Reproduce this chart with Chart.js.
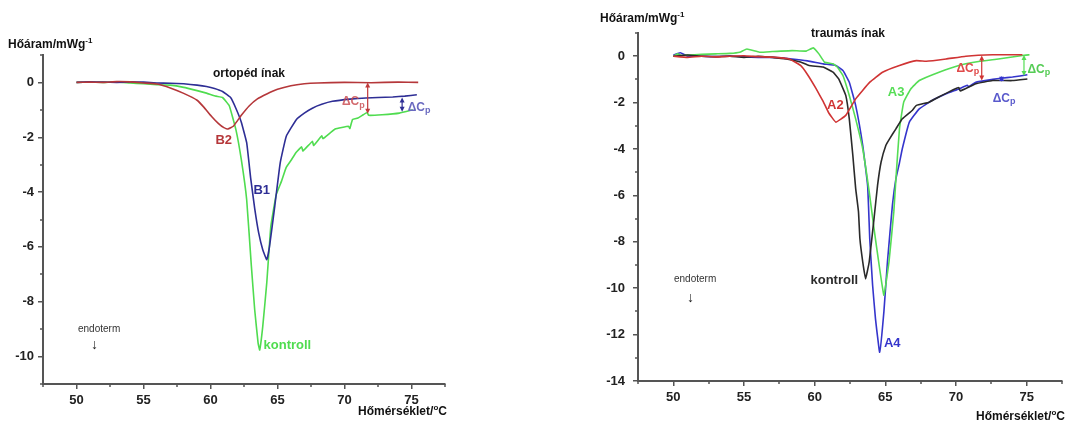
<!DOCTYPE html>
<html>
<head>
<meta charset="utf-8">
<script src="https://cdn.jsdelivr.net/npm/chart.js@4.4.1/dist/chart.umd.min.js"></script>
<style>
  html, body { margin:0; padding:0; background:#fff; }
  body { width:1067px; height:423px; position:relative; overflow:hidden; font-family:"Liberation Sans", Arial, sans-serif; }
  canvas { position:absolute; top:0; }
  .t { position:absolute; font-weight:bold; font-size:12px; color:#111; white-space:nowrap; line-height:1; }
  .t sup { font-size:8px; vertical-align:5px; line-height:0; }
  .small { position:absolute; font-size:10px; color:#333; white-space:nowrap; line-height:1; }
</style>
</head>
<body>
<canvas id="left" width="460" height="423" style="left:0px"></canvas>
<canvas id="right" width="507" height="423" style="left:560px"></canvas>

<div class="t" style="left:8px; top:38px;">Hőáram/mWg<sup>-1</sup></div>
<div class="t" style="left:213px; top:67px;">ortopéd ínak</div>
<div class="t" style="left:358px; top:405px;">Hőmérséklet/<sup>o</sup>C</div>
<div class="small" style="left:78px; top:324px;">endoterm</div>
<div class="small" style="left:91px; top:337px; font-size:14px; color:#222;">↓</div>

<div class="t" style="left:600px; top:12px;">Hőáram/mWg<sup>-1</sup></div>
<div class="t" style="left:811px; top:27px;">traumás ínak</div>
<div class="t" style="left:976px; top:410px;">Hőmérséklet/<sup>o</sup>C</div>
<div class="small" style="left:674px; top:274px;">endoterm</div>
<div class="small" style="left:687px; top:290px; font-size:14px; color:#222;">↓</div>

<script>
// ---------- data: left chart (ortopéd ínak) ----------
const B2_T = [50,51,52,53,54,55,56,57,58,59,59.5,60.1,60.6,61.0,61.3,61.7,62.3,62.9,63.5,64.2,65,66,67,68,70,72,74,75.5];
const B2_V = [0,0.01,0,0.03,0.02,-0.02,-0.06,-0.2,-0.4,-0.65,-0.9,-1.25,-1.5,-1.65,-1.70,-1.6,-1.2,-0.85,-0.6,-0.42,-0.25,-0.12,-0.05,-0.02,0,-0.01,0.01,0];

const B1_T = [50,51,52,53,54,55,56,57,58,59,59.7,60.3,60.9,61.5,61.9,62.3,62.7,63.0,63.3,63.6,63.9,64.2,64.4,64.8,65.2,65.65,66.4,67,67.6,68.3,69.1,70.4,71.6,72.5,73.6,74.5,75.4];
const B1_V = [0,0.02,0.01,0,0.02,0.01,-0.02,-0.03,-0.05,-0.1,-0.15,-0.22,-0.33,-0.55,-0.95,-1.45,-2.2,-3.5,-4.6,-5.5,-6.1,-6.47,-6.0,-4.5,-2.94,-1.97,-1.36,-1.12,-0.94,-0.8,-0.69,-0.61,-0.57,-0.55,-0.53,-0.5,-0.45];

const K1_T = [50,51,52,53,54,55,56,57,58,59,59.7,60.4,60.9,61.4,61.9,62.3,62.7,63.05,63.3,63.55,63.67,63.9,64.2,64.5,64.9,65.3,65.65,66.0,66.4,66.8,66.9,67.6,67.7,68.3,68.4,69.3,70.3,70.4,70.6,71.0,71.4,71.7,71.8,72.8,74.1,75.1];
const K1_V = [0,0.01,0,0.02,-0.02,-0.05,-0.08,-0.1,-0.18,-0.3,-0.39,-0.5,-0.55,-0.85,-1.73,-2.82,-4.28,-6.7,-8.3,-9.5,-9.76,-8.9,-7.3,-5.26,-4.1,-3.6,-3.1,-2.85,-2.55,-2.35,-2.5,-2.15,-2.3,-1.95,-2.05,-1.7,-1.6,-1.68,-1.35,-1.3,-1.18,-1.1,-1.2,-1.18,-1.12,-1.0];

const LEFT_X_TICKS = [50,55,60,65,70,75];
const LEFT_Y_TICKS = [-10,-8,-6,-4,-2,0];

// ---------- data: right chart (traumás ínak) ----------
const A2_T = [50,51,52,53,54,55,56,57,58.2,59.0,59.5,60.1,60.6,61.0,61.5,62.2,62.9,63.9,64.8,66.0,67.2,67.9,69.3,70.7,72.6,74.7];
const A2_V = [0,-0.05,0,-0.03,0,0.02,-0.02,-0.04,-0.12,-0.4,-0.8,-1.4,-1.95,-2.45,-2.84,-2.55,-1.84,-1.12,-0.69,-0.4,-0.19,-0.22,-0.12,0,0.06,0.06];

const A3_T = [50,50.3,50.6,51,52,53,54,54.7,55.2,56.1,57,58.4,59.4,59.9,60.3,60.7,61.3,61.6,62.0,62.45,62.9,63.4,63.86,64.2,64.56,64.9,65.26,65.6,65.75,66.0,66.3,66.8,67.4,68.8,70.2,71.6,73.0,74.7,75.2];
const A3_V = [0,0.1,0.02,0.05,0.08,0.1,0.12,0.17,0.31,0.17,0.2,0.24,0.22,0.36,0.1,-0.26,-0.33,-0.47,-0.83,-1.69,-2.7,-3.99,-5.85,-7.43,-9.0,-10.3,-8.86,-6.7,-5.28,-3.13,-1.98,-1.41,-1.05,-0.69,-0.4,-0.23,-0.12,0.03,0.06];

const A4_T = [50,50.5,51,52,53,54,55,56,57,58.4,59.5,60.6,61.5,62.0,62.45,62.9,63.4,63.75,63.9,64.1,64.3,64.6,64.9,65.15,65.5,65.75,66.0,66.2,66.7,67.4,68.3,69.3,70.2,70.8,70.9,71.4,72.6,73.2,74.0,75.05];
const A4_V = [0.05,0.15,0,0,-0.02,0.02,-0.03,-0.05,-0.05,-0.12,-0.2,-0.33,-0.4,-0.62,-1.12,-2.12,-3.84,-5.6,-7.9,-9.87,-11.3,-12.76,-11.0,-8.86,-6.43,-5.28,-4.6,-3.99,-2.84,-2.27,-1.91,-1.62,-1.41,-1.25,-1.32,-1.12,-1.0,-0.95,-0.9,-0.8];

const K2_T = [50,51,52,53,54,55,56,57,58,59,59.6,60.6,61.3,61.7,62.2,62.45,62.7,62.9,63.1,63.2,63.4,63.6,63.86,64.2,64.45,64.7,65.04,65.3,65.75,66.2,66.9,67.2,68.1,69.0,69.8,70.2,70.3,71.4,72.6,74.0,75.05];
const K2_V = [0,0.05,0,-0.02,0,-0.05,0,-0.05,-0.12,-0.25,-0.4,-0.47,-0.69,-0.98,-1.69,-2.7,-4.27,-5.7,-6.7,-7.86,-8.86,-9.6,-8.86,-7.0,-5.57,-4.56,-3.84,-3.56,-3.13,-2.7,-2.34,-2.12,-1.98,-1.69,-1.45,-1.35,-1.5,-1.19,-1.05,-1.05,-0.98];

const RIGHT_X_TICKS = [50,55,60,65,70,75];
const RIGHT_Y_TICKS = [-14,-12,-10,-8,-6,-4,-2,0];

// ---------- helpers ----------
function pts(T, V) { return T.map((t, i) => ({ x: t, y: V[i] })); }
function ds(T, V, color) {
  return { data: pts(T, V), borderColor: color, borderWidth: 1.6, pointRadius: 0, fill: false, tension: 0.1 };
}

const decorPlugin = {
  id: 'decor',
  afterDraw(chart, args, opts) {
    const ctx = chart.ctx, xs = chart.scales.x, ys = chart.scales.y;
    ctx.save();
    ctx.strokeStyle = '#555'; ctx.lineWidth = 1.5;
    (opts.minorX || []).forEach(v => {
      const px = Math.round(xs.getPixelForValue(v));
      ctx.beginPath(); ctx.moveTo(px, ys.bottom); ctx.lineTo(px, ys.bottom + 3); ctx.stroke();
    });
    (opts.minorY || []).forEach(v => {
      const py = Math.round(ys.getPixelForValue(v));
      ctx.beginPath(); ctx.moveTo(xs.left, py); ctx.lineTo(xs.left - 3, py); ctx.stroke();
    });
    (opts.arrows || []).forEach(a => {
      const px = xs.getPixelForValue(a.x), p1 = ys.getPixelForValue(a.y1), p2 = ys.getPixelForValue(a.y2);
      ctx.strokeStyle = a.color; ctx.fillStyle = a.color; ctx.lineWidth = 1.2;
      ctx.beginPath(); ctx.moveTo(px, p1 + 3); ctx.lineTo(px, p2 - 3); ctx.stroke();
      [[p1, 1], [p2, -1]].forEach(([p, d]) => {
        ctx.beginPath(); ctx.moveTo(px, p); ctx.lineTo(px - 2.5, p + d * 5); ctx.lineTo(px + 2.5, p + d * 5); ctx.closePath(); ctx.fill();
      });
    });
    (opts.labels || []).forEach(l => {
      const px = xs.getPixelForValue(l.x), py = ys.getPixelForValue(l.y);
      ctx.fillStyle = l.color; ctx.textBaseline = 'middle';
      if (l.dcp) {
        ctx.font = 'bold 12px "Liberation Sans", Arial, sans-serif';
        const w1 = ctx.measureText('ΔC').width;
        ctx.font = 'bold 9px "Liberation Sans", Arial, sans-serif';
        const w2 = ctx.measureText('p').width;
        const x0 = px - (w1 + w2) / 2;
        ctx.textAlign = 'left';
        ctx.font = 'bold 12px "Liberation Sans", Arial, sans-serif';
        ctx.fillText('ΔC', x0, py);
        ctx.font = 'bold 9px "Liberation Sans", Arial, sans-serif';
        ctx.fillText('p', x0 + w1, py + 3);
      } else {
        ctx.font = 'bold 13px "Liberation Sans", Arial, sans-serif';
        ctx.textAlign = l.align || 'center';
        ctx.fillText(l.text, px, py);
      }
    });
    ctx.restore();
  }
};

function makeChart(id, datasets, cfg) {
  return new Chart(document.getElementById(id), {
    type: 'line',
    data: { datasets },
    plugins: [decorPlugin],
    options: {
      responsive: false, animation: false, devicePixelRatio: 1,
      layout: { padding: cfg.padding },
      plugins: { legend: { display: false }, tooltip: { enabled: false }, decor: cfg.decor },
      scales: {
        x: {
          type: 'linear', min: 47.5, max: 77.5,
          afterBuildTicks: s => { s.ticks = cfg.xTicks.map(v => ({ value: v })); },
          afterFit: s => { s.height = cfg.xHeight; },
          border: { color: '#555', width: 2 },
          grid: { display: true, drawOnChartArea: false, drawTicks: true, tickLength: 5, color: '#555', lineWidth: 1.5 },
          ticks: { color: '#222', padding: 4, maxRotation: 0, font: { family: '"Liberation Sans", Arial, sans-serif', size: 13, weight: 'bold' } }
        },
        y: {
          type: 'linear', min: cfg.yMin, max: cfg.yMax,
          afterBuildTicks: s => { s.ticks = cfg.yTicks.map(v => ({ value: v })); },
          afterFit: s => { s.width = cfg.yWidth; },
          border: { color: '#555', width: 2 },
          grid: { display: true, drawOnChartArea: false, drawTicks: true, tickLength: 5, color: '#555', lineWidth: 1.5 },
          ticks: { color: '#222', padding: cfg.yPad, font: { family: '"Liberation Sans", Arial, sans-serif', size: 13, weight: 'bold' } }
        }
      }
    }
  });
}

makeChart('left', [
  ds(B2_T, B2_V, '#b5373a'),
  ds(B1_T, B1_V, '#2e2e95'),
  ds(K1_T, K1_V, '#4fdc4f')
], {
  padding: { left: 0, top: 55, right: 15, bottom: 0 },
  yWidth: 43, xHeight: 39, yMin: -11, yMax: 1, yPad: 4,
  xTicks: LEFT_X_TICKS, yTicks: LEFT_Y_TICKS,
  decor: {
    minorX: [47.5, 52.5, 57.5, 62.5, 67.5, 72.5, 77.5],
    minorY: [-11, -9, -7, -5, -3, -1, 1],
    arrows: [
      { x: 71.73, y1: 0, y2: -1.14, color: '#c0393b' },
      { x: 74.3, y1: -0.55, y2: -1.07, color: '#2e2e95' }
    ],
    labels: [
      { x: 60.99, y: -2.13, text: 'B2', color: '#b5373a' },
      { x: 63.82, y: -3.95, text: 'B1', color: '#2e2e95' },
      { x: 63.96, y: -9.61, text: 'kontroll', color: '#4fdc4f', align: 'left' },
      { x: 70.66, y: -0.72, dcp: true, color: 'rgba(200,70,75,0.8)' },
      { x: 75.57, y: -0.93, dcp: true, color: '#6a6ac0' }
    ]
  }
});

makeChart('right', [
  ds(A2_T, A2_V, '#d03434'),
  ds(K2_T, K2_V, '#2a2a2a'),
  ds(A3_T, A3_V, '#55dd55'),
  ds(A4_T, A4_V, '#3535cc')
], {
  padding: { left: 0, top: 33, right: 5, bottom: 0 },
  yWidth: 78, xHeight: 42, yMin: -14, yMax: 1, yPad: 8,
  xTicks: RIGHT_X_TICKS, yTicks: RIGHT_Y_TICKS,
  decor: {
    minorX: [47.5, 52.5, 57.5, 62.5, 67.5, 72.5, 77.5],
    minorY: [-13, -11, -9, -7, -5, -3, -1, 1],
    arrows: [
      { x: 71.82, y1: 0.03, y2: -1.05, color: '#d03434' },
      { x: 74.81, y1: 0.05, y2: -0.85, color: '#55dd55' },
      { x: 73.23, y1: -0.85, y2: -1.1, color: '#3535cc' }
    ],
    labels: [
      { x: 61.46, y: -2.14, text: 'A2', color: '#d03434' },
      { x: 65.76, y: -1.54, text: 'A3', color: '#55dd55' },
      { x: 61.39, y: -9.66, text: 'kontroll', color: '#2a2a2a' },
      { x: 65.49, y: -12.4, text: 'A4', color: '#3535cc' },
      { x: 70.84, y: -0.55, dcp: true, color: '#e04a4a' },
      { x: 75.86, y: -0.59, dcp: true, color: '#55cc55' },
      { x: 73.4, y: -1.84, dcp: true, color: '#5a5acc' }
    ]
  }
});
</script>
</body>
</html>
